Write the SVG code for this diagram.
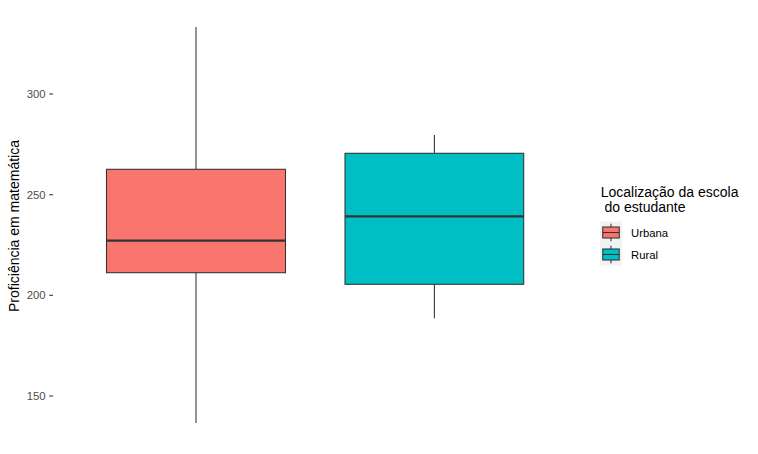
<svg xmlns="http://www.w3.org/2000/svg" width="758" height="454" viewBox="0 0 758 454">
<style>
.tick{font-family:"Liberation Sans",Arial,sans-serif;font-size:11.3px;fill:#4D4D4D;text-anchor:end}
.title{font-family:"Liberation Sans",Arial,sans-serif;font-size:14px;fill:#000}
.lab{font-family:"Liberation Sans",Arial,sans-serif;font-size:11.3px;fill:#000}
.ln{stroke:#333333;stroke-width:1.07;fill:none}
.box{stroke:#333333;stroke-width:1.07}
.med{stroke:#333333;stroke-width:2.2}
.urb{fill:#F8766D}
.rur{fill:#00BFC4}
</style>
<rect width="758" height="454" fill="#FFFFFF"/>
<g id="y-axis">
<line class="ln" x1="49.3" y1="94" x2="53" y2="94"/>
<line class="ln" x1="49.3" y1="194.7" x2="53" y2="194.7"/>
<line class="ln" x1="49.3" y1="295.3" x2="53" y2="295.3"/>
<line class="ln" x1="49.3" y1="396" x2="53" y2="396"/>
<text class="tick" x="45.5" y="98">300</text>
<text class="tick" x="45.5" y="198.7">250</text>
<text class="tick" x="45.5" y="299.3">200</text>
<text class="tick" x="45.5" y="400">150</text>
<text class="title" text-anchor="middle" transform="translate(18.5,226) rotate(-90)">Proficiência em matemática</text>
</g>
<g id="connectors">
<line class="ln" x1="196" y1="27" x2="196" y2="169.3"/>
<line class="ln" x1="196" y1="272.7" x2="196" y2="423"/>
<line class="ln" x1="434.4" y1="135" x2="434.4" y2="153.3"/>
<line class="ln" x1="434.4" y1="284.3" x2="434.4" y2="318.3"/>
</g>
<g id="box-urbana">
<rect class="box urb" x="106.5" y="169.3" width="179" height="103.4"/>
<line class="med" x1="106.5" y1="240.7" x2="285.5" y2="240.7"/>
</g>
<g id="box-rural">
<rect class="box rur" x="345" y="153.3" width="178.7" height="131"/>
<line class="med" x1="345" y1="216.3" x2="523.7" y2="216.3"/>
</g>
<g id="legend">
<text class="title" x="600.7" y="197">Localização da escola</text>
<text class="title" x="600.7" y="212" xml:space="preserve"> do estudante</text>
<rect x="600" y="221.5" width="22" height="44" fill="#F2F2F2"/>
<g id="key-urbana">
<line class="ln" x1="611" y1="223.7" x2="611" y2="241.3"/>
<rect class="box urb" x="602.75" y="227" width="16.5" height="11"/>
<line class="ln" x1="602.75" y1="232.5" x2="619.25" y2="232.5"/>
<text class="lab" x="631" y="237">Urbana</text>
</g>
<g id="key-rural">
<line class="ln" x1="611" y1="245.7" x2="611" y2="263.3"/>
<rect class="box rur" x="602.75" y="249" width="16.5" height="11"/>
<line class="ln" x1="602.75" y1="254.5" x2="619.25" y2="254.5"/>
<text class="lab" x="631" y="259">Rural</text>
</g>
</g>
</svg>
